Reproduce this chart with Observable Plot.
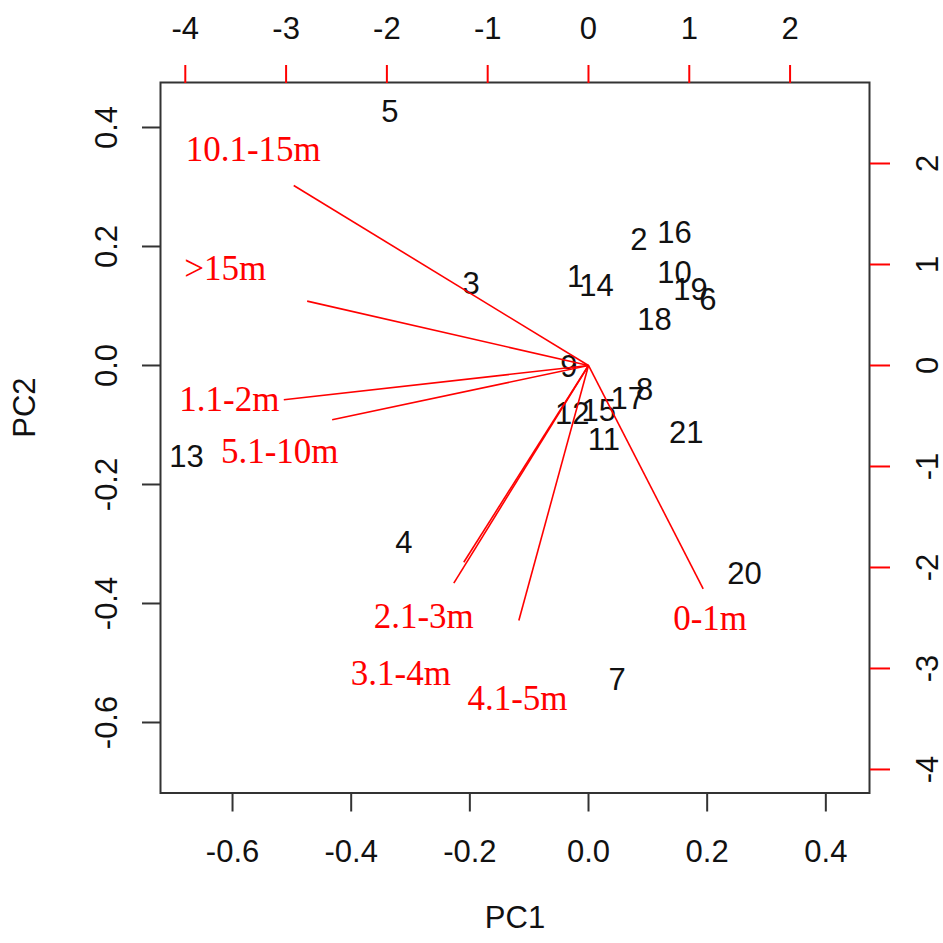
<!DOCTYPE html>
<html><head><meta charset="utf-8">
<script src="https://cdn.jsdelivr.net/npm/d3@7"></script>
<script src="https://cdn.jsdelivr.net/npm/@observablehq/plot@0.6"></script>
<style>
body{margin:0;background:#fff}
#wrap{position:relative;width:943px;height:943px}
#wrap svg{position:absolute;left:0;top:0;background:transparent}
</style>
</head><body><div id="wrap"></div>
<script>
// Observations (site scores on PC1 / PC2)
const obsIds = ["1","2","3","4","5","6","7","8","9","10","11","12","13","14","15","16","17","18","19","20","21"];
const pc1 = [-0.0219,0.0848,-0.1977,-0.3113,-0.3349,0.2011,0.0484,0.0944,-0.0332,0.1450,0.0258,-0.0275,-0.6776,0.0135,0.0174,0.1450,0.0662,0.1112,0.1719,0.2629,0.1647];
const pc2 = [0.1484,0.2113,0.1361,-0.2987,0.4257,0.1104,-0.5294,-0.0420,-0.0029,0.1551,-0.1261,-0.0812,-0.1541,0.1328,-0.0768,0.2224,-0.0560,0.0756,0.1261,-0.3513,-0.1138];

// Variables (loading arrows, in top/right axis units)
const varNames = ["10.1-15m",">15m","1.1-2m","5.1-10m","2.1-3m","3.1-4m","4.1-5m","0-1m"];
const arrowX = [-2.924,-2.791,-3.023,-2.543,-1.336,-1.237,-0.691,1.138];
const arrowY = [1.782,0.637,-0.340,-0.538,-2.155,-1.948,-2.525,-2.211];
const labelX = [-3.326,-3.603,-3.563,-3.063,-1.634,-1.862,-0.704,1.207];
const labelY = [2.139,0.957,-0.335,-0.858,-2.492,-3.053,-3.300,-2.508];

const pcTicks = [-0.6,-0.4,-0.2,0,0.2,0.4];
const varTicks = [-4,-3,-2,-1,0,1,2];

const obs = obsIds.map((id,i)=>({id, x:pc1[i], y:pc2[i]}));
const vars = varNames.map((name,i)=>({name, x:arrowX[i], y:arrowY[i], lx:labelX[i], ly:labelY[i]}));

const W = 943, H = 943;
const common = {width:W, height:H, marginLeft:160, marginRight:74, marginTop:82, marginBottom:150.5};
const sans = "'Liberation Sans', Arial, sans-serif";
const fmt1 = d => d.toFixed(1);

const p1 = Plot.plot({
  ...common,
  style:{fontFamily:sans, fontSize:"31px", color:"#111", background:"transparent", overflow:"visible"},
  x:{domain:[-0.7214,0.4736]},
  y:{domain:[-0.7185,0.4756]},
  marks:[
    Plot.frame({stroke:"#333", strokeWidth:2}),
    Plot.axisX(pcTicks,{anchor:"bottom", tickSize:19, tickPadding:28, tickFormat:fmt1, stroke:"#333", strokeWidth:2, fill:"#111", label:null, fontSize:31}),
    Plot.axisY(pcTicks,{anchor:"left", tickSize:18, tickPadding:26, tickRotate:-90, textAnchor:"middle", lineAnchor:"bottom", tickFormat:fmt1, stroke:"#333", strokeWidth:2, fill:"#111", label:null, fontSize:31}),
    Plot.text(["PC1"],{frameAnchor:"bottom", dy:135, fontSize:31, fill:"#111"}),
    Plot.text(["PC2"],{frameAnchor:"left", dx:-135, rotate:-90, fontSize:31, fill:"#111"}),
    Plot.text(obs,{x:"x", y:"y", text:"id", fontSize:31, fill:"#111"})
  ]
});

const p2 = Plot.plot({
  ...common,
  style:{fontFamily:sans, fontSize:"31px", color:"#111", background:"transparent", overflow:"visible"},
  x:{domain:[-4.246,2.788]},
  y:{domain:[-4.233,2.802]},
  marks:[
    Plot.axisX(varTicks,{anchor:"top", tickSize:18, tickPadding:26, stroke:"red", strokeWidth:2, fill:"#111", tickFormat:d=>String(d), label:null, fontSize:31}),
    Plot.axisY(varTicks,{anchor:"right", tickSize:20, tickPadding:26, tickRotate:-90, textAnchor:"middle", lineAnchor:"top", stroke:"red", strokeWidth:2, fill:"#111", tickFormat:d=>String(d), label:null, fontSize:31}),
    Plot.link(vars,{x1:0, y1:0, x2:"x", y2:"y", stroke:"red", strokeWidth:1.6}),
    Plot.text(vars,{x:"lx", y:"ly", text:"name", fill:"red", fontSize:35, fontFamily:"'Liberation Serif', 'Times New Roman', serif"})
  ]
});

const wrap = document.getElementById("wrap");
wrap.appendChild(p1);
wrap.appendChild(p2);
</script>
</body></html>
